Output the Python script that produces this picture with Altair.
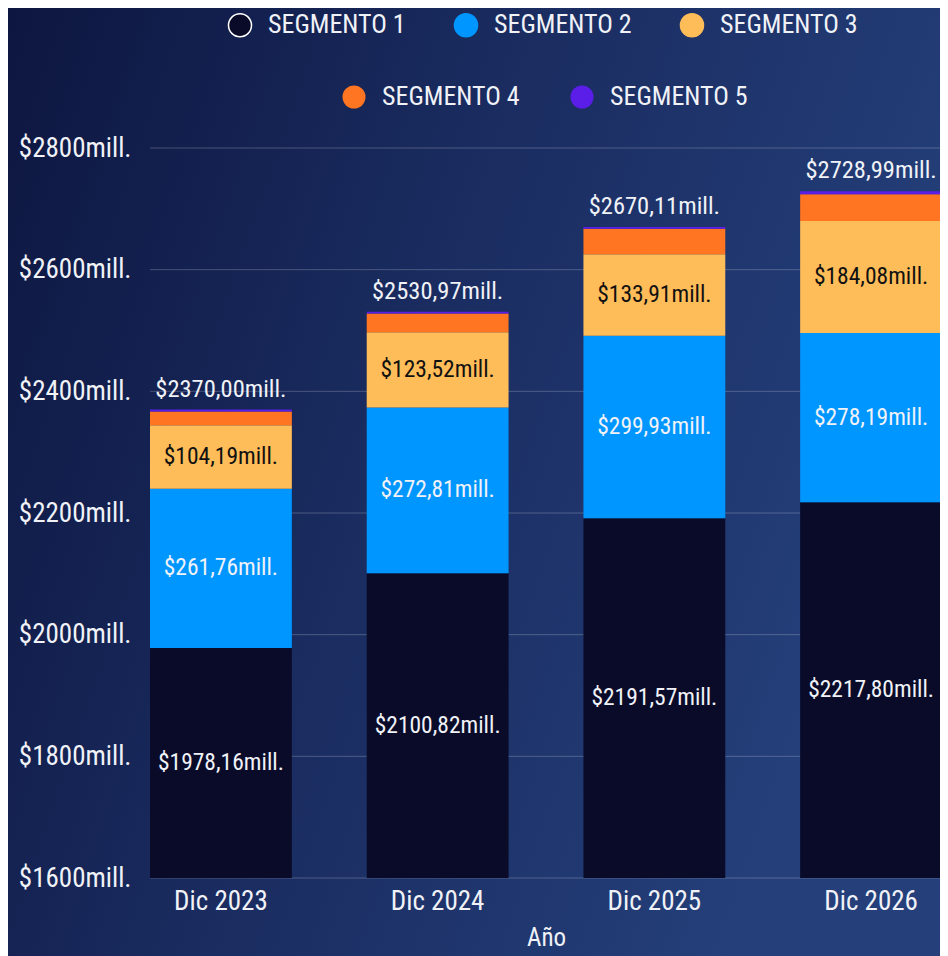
import altair as alt
import pandas as pd

years = ["Dic 2023", "Dic 2024", "Dic 2025", "Dic 2026"]
segments = ["SEGMENTO 1", "SEGMENTO 2", "SEGMENTO 3", "SEGMENTO 4", "SEGMENTO 5"]
seg1 = [1978.16, 2100.82, 2191.57, 2217.80]
seg2 = [261.76, 272.81, 299.93, 278.19]
seg3 = [104.19, 123.52, 133.91, 184.08]
seg4 = [22.60, 30.80, 41.90, 44.00]
seg5 = [3.29, 3.02, 2.80, 4.92]
totals = [2370.00, 2530.97, 2670.11, 2728.99]
y_ticks = [1600, 1800, 2000, 2200, 2400, 2600, 2800]
colors = ["#090b29", "#0096ff", "#ffbd59", "#ff7521", "#5b1ee8"]

FONT = "Roboto Condensed, Roboto"
TXT = "#f0f2f7"


def fmt(v):
    return "$" + f"{v:.2f}".replace(".", ",") + "mill."


rows = []
for i, yr in enumerate(years):
    base = 0.0
    for s, vals in zip(segments, [seg1, seg2, seg3, seg4, seg5]):
        v = vals[i]
        lo, hi = base, base + v
        rows.append(dict(year=yr, segment=s, value=v, lo=lo, hi=hi,
                         mid=(max(lo, y_ticks[0]) + hi) / 2, label=fmt(v)))
        base = hi
df = pd.DataFrame(rows)
tot_df = pd.DataFrame({"year": years, "total": totals, "label": [fmt(t) for t in totals]})
tick_df = pd.DataFrame({"tick": y_ticks})

xaxis = alt.Axis(labelFontSize=27, labelColor=TXT, labelFont=FONT, labelPadding=10,
                 labelAngle=0, ticks=False, domain=False, grid=False, zindex=1,
                 titleFontSize=25, titleColor=TXT, titleFont=FONT, titleFontWeight="normal",
                 titlePadding=11)
xscale = alt.Scale(domain=years, range=[0, 792], paddingInner=0.3455, paddingOuter=0)


def X():
    return alt.X("year:N", sort=years, scale=xscale, axis=xaxis, title="Año")


yaxis = alt.Axis(values=y_ticks, labelExpr="'$' + datum.value + 'mill.'", labelFontSize=27,
                 labelColor=TXT, labelFont=FONT, labelPadding=19, ticks=False, domain=False,
                 grid=False, zindex=1)
yscale = alt.Scale(domain=[y_ticks[0], y_ticks[-1]], zero=False, nice=False)


def Y(field):
    return alt.Y(field, scale=yscale, axis=yaxis, title=None)


legA = alt.Legend(title=None, orient="none", legendX=77, legendY=-136, direction="horizontal",
                  symbolType="circle", symbolSize=530, symbolStrokeWidth=1.5, symbolOpacity=1,
                  labelFontSize=26, labelColor=TXT, labelFont=FONT, labelOffset=15,
                  columnPadding=45)
legB = alt.Legend(title=None, orient="none", legendX=191, legendY=-64, direction="horizontal",
                  symbolType="circle", symbolSize=530, symbolOpacity=1,
                  labelFontSize=26, labelColor=TXT, labelFont=FONT, labelOffset=15,
                  columnPadding=49)

bg = alt.Chart(pd.DataFrame({"k": [0]})).mark_rect(
    color=alt.Gradient(gradient="linear",
                       stops=[alt.GradientStop(color="#0d1640", offset=0),
                              alt.GradientStop(color="#1a2c60", offset=0.5),
                              alt.GradientStop(color="#243f7a", offset=1)],
                       x1=0, y1=0, x2=1, y2=0.35)
).encode(x=alt.value(-142), x2=alt.value(790), y=alt.value(-140), y2=alt.value(810))

grid = alt.Chart(tick_df).mark_rule(color="#ffffff", opacity=0.22, strokeWidth=1).encode(
    y=Y("tick:Q"))

barsA = alt.Chart(df).transform_filter(
    alt.FieldOneOfPredicate(field="segment", oneOf=segments[:3])
).mark_bar(clip=True, strokeWidth=0).encode(
    x=X(), y=Y("lo:Q"), y2="hi:Q",
    color=alt.Color("segment:N", scale=alt.Scale(domain=segments[:3], range=colors[:3]), legend=legA),
    stroke=alt.Stroke("segment:N", scale=alt.Scale(domain=segments[:3], range=["#ffffff"] + colors[1:3]),
                      legend=legA),
)

barsB = alt.Chart(df).transform_filter(
    alt.FieldOneOfPredicate(field="segment", oneOf=segments[3:])
).mark_bar(clip=True).encode(
    x=X(), y=Y("lo:Q"), y2="hi:Q",
    fill=alt.Fill("segment:N", scale=alt.Scale(domain=segments[3:], range=colors[3:]), legend=legB),
)

textW = alt.Chart(df).transform_filter(
    alt.FieldOneOfPredicate(field="segment", oneOf=segments[:2])
).mark_text(font=FONT, fontSize=23.5, color=TXT, baseline="middle").encode(
    x=X(), y=Y("mid:Q"), text="label:N")

textB = alt.Chart(df).transform_filter(
    alt.FieldOneOfPredicate(field="segment", oneOf=segments[2:3])
).mark_text(font=FONT, fontSize=23.5, color="#111111", baseline="middle").encode(
    x=X(), y=Y("mid:Q"), text="label:N")

textT = alt.Chart(tot_df).mark_text(font=FONT, fontSize=24.5, color=TXT, baseline="bottom", dy=-8).encode(
    x=X(), y=Y("total:Q"), text="label:N")

chart = alt.layer(bg, grid, barsA, barsB, textW, textB, textT).properties(
    width=790, height=730,
    padding={"left": 142, "top": 140, "right": 0, "bottom": 80},
    autosize=alt.AutoSizeParams(type="none"),
    background="#16265a",
).configure_view(stroke=None).configure(font=FONT)

chart.save("out.html", embed_options={"renderer": "svg", "actions": False})
